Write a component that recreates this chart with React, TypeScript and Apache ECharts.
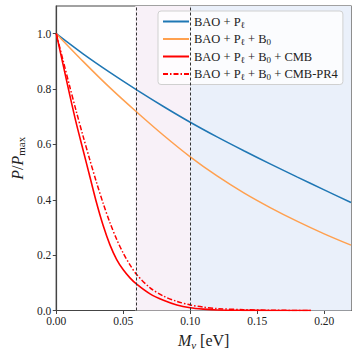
import React, { useEffect, useRef } from "react";
import * as echarts from "echarts";

const xBAO = [0, 0.02, 0.04, 0.06, 0.08, 0.1, 0.12, 0.14, 0.16, 0.18, 0.2, 0.22];
const yBAO = [1, 0.927, 0.86, 0.797, 0.737, 0.68, 0.627, 0.577, 0.529, 0.482, 0.436, 0.39];
const yBAOB0 = [1, 0.9, 0.805, 0.717, 0.633, 0.555, 0.486, 0.425, 0.371, 0.322, 0.277, 0.236];

const xCMB = [0, 0.005, 0.01, 0.015, 0.02, 0.025, 0.03, 0.035, 0.04, 0.045, 0.05, 0.055, 0.06, 0.07, 0.08, 0.09, 0.1, 0.11, 0.12, 0.14, 0.16, 0.19];
const yCMB = [1, 0.89, 0.78, 0.675, 0.58, 0.485, 0.39, 0.307, 0.238, 0.185, 0.147, 0.118, 0.095, 0.06, 0.037, 0.02, 0.01, 0.005, 0.002, 0.0006, 0.0002, 0];
const yPR4 = [1, 0.905, 0.81, 0.718, 0.63, 0.545, 0.463, 0.387, 0.318, 0.258, 0.207, 0.165, 0.13, 0.082, 0.052, 0.033, 0.02, 0.012, 0.007, 0.003, 0.001, 0];

const seriesNames = ["BAO + Pl", "BAO + Pl + B0", "BAO + Pl + B0 + CMB", "BAO + Pl + B0 + CMB-PR4"];
const legendLabels = [
  "{t|BAO + P}{s|ℓ}",
  "{t|BAO + P}{s|ℓ}{t| + B}{s|0}",
  "{t|BAO + P}{s|ℓ}{t| + B}{s|0}{t| + CMB}",
  "{t|BAO + P}{s|ℓ}{t| + B}{s|0}{t| + CMB-PR4}",
];
const lowerBound = 0.059;
const upperBound = 0.1;
const xTicks = [0, 0.05, 0.1, 0.15, 0.2];
const yTicks = [0, 0.2, 0.4, 0.6, 0.8, 1.0];

const FONT = "Liberation Serif";

export default function App() {
  const ref = useRef<HTMLDivElement>(null);
  useEffect(() => {
    const chart = echarts.init(ref.current!, undefined, { renderer: "svg" });
    const zip = (xs: number[], ys: number[]) => xs.map((x, i) => [x, ys[i]]);
    const colors = ["#1f77b4", "#ffa04f", "#ff0000", "#ff0000"];
    chart.setOption({
      animation: false,
      textStyle: { fontFamily: FONT },
      grid: { left: 48, right: 6, top: 6, bottom: 46.5, show: true, borderColor: "#444", borderWidth: 1.2, backgroundColor: "transparent" },
      legend: {
        left: 158,
        top: 11,
        orient: "vertical",
        itemWidth: 26,
        itemHeight: 10,
        itemGap: 2.5,
        padding: [3, 5, 3, 4],
        itemStyle: { opacity: 0 },
        backgroundColor: "rgba(255,255,255,0.8)",
        borderColor: "#d0d0d0",
        borderWidth: 1,
        borderRadius: 3,
        data: seriesNames,
        formatter: (name: string) => legendLabels[seriesNames.indexOf(name)],
        textStyle: {
          fontFamily: FONT,
          rich: {
            t: { fontFamily: FONT, fontSize: 12.5, lineHeight: 14, color: "#222" },
            s: { fontFamily: FONT, fontSize: 9, lineHeight: 9, padding: [6, 0, 0, 0], color: "#222" },
          },
        },
      },
      xAxis: {
        type: "value",
        min: 0,
        max: 0.22,
        interval: 0.05,
        name: "{i|M}{s|ν}{t| [eV]}",
        nameLocation: "middle",
        nameGap: 21,
        nameTextStyle: {
          rich: {
            i: { fontFamily: FONT, fontStyle: "italic", fontSize: 16, lineHeight: 18, color: "#222" },
            s: { fontFamily: FONT, fontStyle: "italic", fontSize: 11, lineHeight: 11, padding: [8, 0, 0, 0], color: "#222" },
            t: { fontFamily: FONT, fontSize: 16, lineHeight: 18, color: "#222" },
          },
        },
        axisLine: { show: true, lineStyle: { color: "#444", width: 1.2 } },
        axisTick: { show: true, inside: false, length: 3.5, lineStyle: { color: "#444" }, customValues: xTicks },
        axisLabel: { fontFamily: FONT, fontSize: 11.5, color: "#222", margin: 4, customValues: xTicks, formatter: (v: number) => v.toFixed(2) },
        splitLine: { show: false },
      },
      yAxis: {
        type: "value",
        min: 0,
        max: 1.1,
        interval: 0.2,
        name: "{i|P}{t|/}{i|P}{s|max}",
        nameLocation: "middle",
        nameGap: 30,
        nameRotate: 90,
        nameTextStyle: {
          rich: {
            i: { fontFamily: FONT, fontStyle: "italic", fontSize: 16, lineHeight: 18, color: "#222" },
            s: { fontFamily: FONT, fontSize: 11, lineHeight: 11, padding: [7, 0, 0, 0], color: "#222" },
            t: { fontFamily: FONT, fontSize: 16, lineHeight: 18, color: "#222" },
          },
        },
        axisLine: { show: true, lineStyle: { color: "#444", width: 1.2 } },
        axisTick: { show: true, inside: false, length: 3.5, lineStyle: { color: "#444" }, customValues: yTicks },
        axisLabel: { fontFamily: FONT, fontSize: 11.5, color: "#222", margin: 5, customValues: yTicks, formatter: (v: number) => v.toFixed(1) },
        splitLine: { show: false },
      },
      series: [
        {
          name: seriesNames[0],
          type: "line",
          symbol: "none",
          smooth: 0.3,
          data: zip(xBAO, yBAO),
          lineStyle: { color: colors[0], width: 1.5 },
          itemStyle: { color: colors[0] },
          z: 3,
          markArea: {
            silent: true,
            z: 1,
            data: [
              [{ xAxis: lowerBound, itemStyle: { color: "#f8f1f8" } }, { xAxis: upperBound }],
              [{ xAxis: upperBound, itemStyle: { color: "#eaf0fa" } }, { xAxis: 0.22 }],
            ],
          },
          markLine: {
            silent: true,
            symbol: "none",
            label: { show: false },
            lineStyle: { color: "#333", type: [3, 2], width: 1 },
            data: [{ xAxis: lowerBound }, { xAxis: upperBound }],
          },
        },
        {
          name: seriesNames[1],
          type: "line",
          symbol: "none",
          smooth: 0.3,
          data: zip(xBAO, yBAOB0),
          lineStyle: { color: colors[1], width: 1.5 },
          itemStyle: { color: colors[1] },
          z: 3,
        },
        {
          name: seriesNames[2],
          type: "line",
          symbol: "none",
          smooth: 0.3,
          data: zip(xCMB, yCMB),
          lineStyle: { color: colors[2], width: 1.6 },
          itemStyle: { color: colors[2] },
          z: 3,
        },
        {
          name: seriesNames[3],
          type: "line",
          symbol: "none",
          smooth: 0.3,
          data: zip(xCMB, yPR4),
          lineStyle: { color: colors[3], width: 1.5, type: [5, 2, 1.5, 2] },
          itemStyle: { color: colors[3] },
          z: 3,
        },
      ],
    });
    return () => chart.dispose();
  }, []);
  return <div ref={ref} style={{ width: 357, height: 357, position: "absolute", left: 0, top: 0 }} />;
}
